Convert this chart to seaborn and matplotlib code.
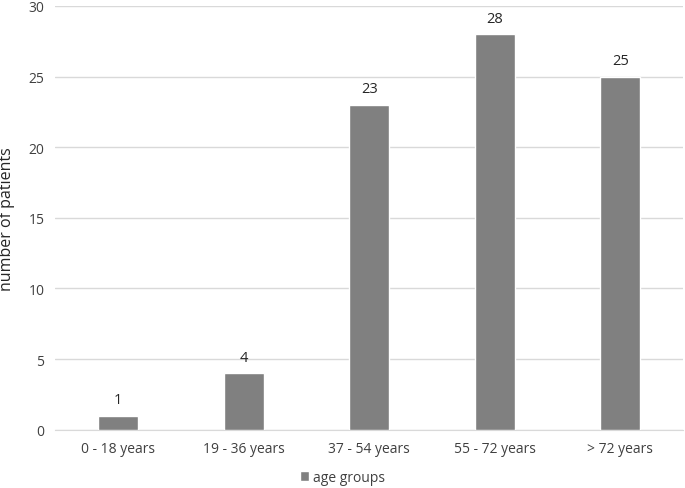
import pandas as pd
import matplotlib.pyplot as plt
import seaborn as sns

categories = ["0 - 18 years", "19 - 36 years", "37 - 54 years", "55 - 72 years", "> 72 years"]
patients = [1, 4, 23, 28, 25]

df = pd.DataFrame({"age": categories, "patients": patients})

sns.set_style("white")
plt.rcParams["font.family"] = ["Open Sans", "DejaVu Sans"]

fig = plt.figure(figsize=(6.85, 4.89), dpi=100)
ax = fig.add_axes([0.081, 0.119, 0.916, 0.867])

sns.barplot(data=df, x="age", y="patients", color="#808080", saturation=1,
            width=0.32, ax=ax, label="age groups", zorder=3)

for i, v in enumerate(patients):
    ax.text(i, v + 0.6, str(v), ha="center", va="bottom", fontsize=10.5, color="#262626")

ax.set_ylim(0, 30)
ax.set_xlim(-0.5, 4.5)
ax.set_yticks(range(0, 31, 5))
ax.yaxis.grid(True, color="#d9d9d9", linewidth=1, zorder=0)
for s in ["top", "right", "left"]:
    ax.spines[s].set_visible(False)
ax.spines["bottom"].set_color("#d9d9d9")
ax.tick_params(axis="both", length=0, labelsize=10, colors="#404040", pad=8)
ax.set_xlabel("")
ax.set_ylabel("number of patients", fontsize=11.5, color="#262626")
ax.yaxis.set_label_coords(-0.064, 0.5)

ax.legend(loc="center", bbox_to_anchor=(0.5, 0.022), bbox_transform=fig.transFigure,
          frameon=False, fontsize=10, handlelength=0.7, handleheight=0.7,
          handletextpad=0.3, labelcolor="#404040")

plt.savefig("out.png", dpi=100)
